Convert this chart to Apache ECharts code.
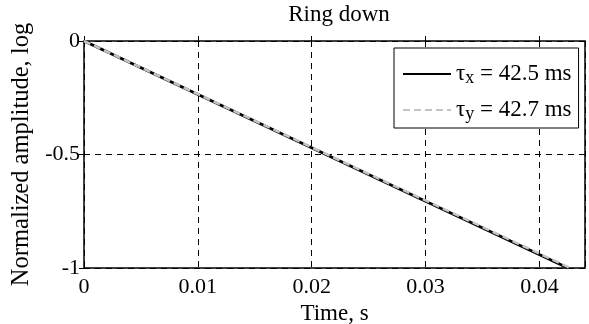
<!DOCTYPE html>
<html>
<head>
<meta charset="utf-8">
<script src="https://cdn.jsdelivr.net/npm/echarts@6/dist/echarts.min.js"></script>
<style>
html, body { margin: 0; padding: 0; background: #fff; }
#chart { width: 589px; height: 324px; }
</style>
</head>
<body>
<div id="chart"></div>
<script>
var chart = echarts.init(document.getElementById('chart'));

// ring-down decay, log normalized amplitude vs time
const timeX = [0, 0.0425];
const ampX = [0, -1];
const timeY = [0, 0.0427];
const ampY = [0, -1];
const seriesNames = ['tx', 'ty'];
const tauLabels = { tx: ['x', '42.5'], ty: ['y', '42.7'] };

const font = 'Liberation Serif';
const fs = 22;

function pairs(xs, ys) {
	return xs.map(function (x, i) { return [x, ys[i]]; });
}

var option = {
	backgroundColor: '#fff',
	animation: false,
	title: {
		text: 'Ring down',
		left: 334,
		textAlign: 'center',
		top: -2,
		textStyle: { fontFamily: font, fontSize: 23, fontWeight: 'normal', color: '#000' }
	},
	grid: {
		left: 84,
		right: 4,
		top: 41,
		bottom: 56,
		outerBoundsMode: 'none',
		containLabel: false,
		show: true,
		borderColor: '#000',
		borderWidth: 1.5
	},
	legend: {
		orient: 'vertical',
		left: 394,
		top: 48,
		padding: [11, 7, 5, 8],
		itemGap: 8,
		itemWidth: 48,
		itemHeight: 26,
		backgroundColor: '#fff',
		borderColor: '#000',
		borderWidth: 1,
		itemStyle: { opacity: 0 },
		data: seriesNames,
		formatter: function (name) {
			var t = tauLabels[name];
			return '{t|τ}{s|' + t[0] + '}{t| = ' + t[1] + ' ms}';
		},
		textStyle: {
			fontFamily: font,
			fontSize: 23,
			color: '#000',
			rich: {
				t: { fontFamily: font, fontSize: 23, lineHeight: 26, color: '#000' },
				s: { fontFamily: font, fontSize: 18, lineHeight: 16, color: '#000', verticalAlign: 'bottom', padding: [10, 0, 0, 0] }
			}
		}
	},
	xAxis: [{
		type: 'value',
		min: 0,
		max: 0.044,
		interval: 0.01,
		name: 'Time, s',
		nameLocation: 'middle',
		nameGap: 31,
		nameTextStyle: { fontFamily: font, fontSize: 23, color: '#000' },
		axisLine: { show: false },
		axisTick: { inside: true, length: 5, lineStyle: { color: '#000' } },
		axisLabel: {
			showMaxLabel: false,
			fontFamily: font, fontSize: fs, color: '#000', margin: 8,
			formatter: function (v) { return v === 0 ? '0' : v.toFixed(2); }
		},
		splitLine: { show: true, lineStyle: { color: '#000', type: [6, 5], width: 1 } }
	}, {
		type: 'value',
		position: 'top',
		min: 0,
		max: 0.044,
		interval: 0.01,
		axisLine: { show: false },
		axisTick: { inside: true, length: 5, lineStyle: { color: '#000' } },
		axisLabel: { show: false },
		splitLine: { show: false }
	}],
	yAxis: [{
		type: 'value',
		min: -1,
		max: 0,
		interval: 0.5,
		name: 'Normalized amplitude, log',
		nameLocation: 'middle',
		nameGap: 50,
		nameTextStyle: { fontFamily: font, fontSize: 24.5, color: '#000' },
		axisLine: { show: false },
		axisTick: { inside: true, length: 5, lineStyle: { color: '#000' } },
		axisLabel: { fontFamily: font, fontSize: fs, color: '#000', margin: 4 },
		splitLine: { show: true, lineStyle: { color: '#000', type: [6, 5], width: 1 } }
	}, {
		type: 'value',
		position: 'right',
		min: -1,
		max: 0,
		interval: 0.5,
		axisLine: { show: false },
		axisTick: { inside: true, length: 5, lineStyle: { color: '#000' } },
		axisLabel: { show: false },
		splitLine: { show: false }
	}],
	series: [{
		name: seriesNames[0],
		type: 'line',
		showSymbol: false,
		symbol: 'none',
		data: pairs(timeX, ampX),
		lineStyle: { color: '#000', width: 3 },
		itemStyle: { color: '#000' }
	}, {
		name: seriesNames[1],
		type: 'line',
		showSymbol: false,
		symbol: 'none',
		data: pairs(timeY, ampY),
		lineStyle: { color: '#c4c4c4', width: 2.5, type: [7, 4] },
		itemStyle: { color: '#c4c4c4' }
	}]
};

chart.setOption(option);
</script>
</body>
</html>
